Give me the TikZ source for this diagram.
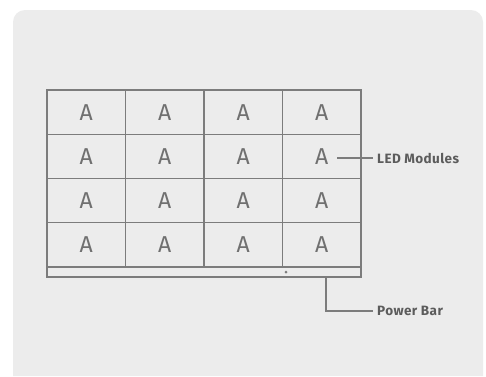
\documentclass[tikz,border=0pt]{standalone}
\usepackage{fontspec}
\setmainfont{Fira Sans}
\newfontfamily\calloutfont[LetterSpace=3]{Fira Sans}
\usepackage{xcolor}
\usetikzlibrary{positioning, calc}
\definecolor{panelgray}{HTML}{ECECEC}
\definecolor{framegray}{HTML}{7C7C7C}
\definecolor{lettergray}{HTML}{707070}
\definecolor{labelgray}{HTML}{5C5C5C}
\tikzset{
    modulebox/.style={rectangle, draw=framegray, line width=1.4pt, outer sep=0pt, minimum width=78.5pt, minimum height=44.25pt, text=lettergray, font=\fontsize{23}{23}\selectfont},
    leader/.style={draw=framegray, line width=1.2pt}
}

\begin{document}
\begin{tikzpicture}[x=1pt, y=-1pt,
    calloutlabel/.style={anchor=west, inner sep=0pt, text=labelgray, font=\calloutfont\fontsize{13.5}{13.5}\selectfont\bfseries}]

    \useasboundingbox (0,0) rectangle (486,376);
    \fill[white] (0,0) rectangle (486,376);
    \fill[panelgray] (13,376) {[rounded corners=12pt] -- (13,10) -- (483,10)} -- (483,376) -- cycle;

    % LED module grid
    \foreach \r in {1,...,4}
        \foreach \c in {1,...,4}
            \node (m\r\c) [modulebox] at ({47+78.5*(\c-0.5)}, {90+44.25*(\r-0.5)}) {A};

    % power bar below the modules
    \node (bar) [rectangle, draw=framegray, line width=1.4pt, outer sep=0pt, minimum width=314pt, minimum height=10pt, anchor=north west] at (m41.south west) {};
    \node (dot) [circle, fill=framegray, inner sep=0pt, minimum size=3pt] at (286,272) {};

    % callouts
    \node (led) [calloutlabel] at (377,158) {LED Modules};
    \node (pwr) [calloutlabel] at (377,311) {Power Bar};
    \coordinate (ledtip) at (337,158);
    \coordinate (bartip) at (326,277);
    \draw [leader] (ledtip) -- ([xshift=-4pt]led.west);
    \draw [leader] (bartip) |- ([xshift=-4pt]pwr.west);
\end{tikzpicture}
\end{document}
